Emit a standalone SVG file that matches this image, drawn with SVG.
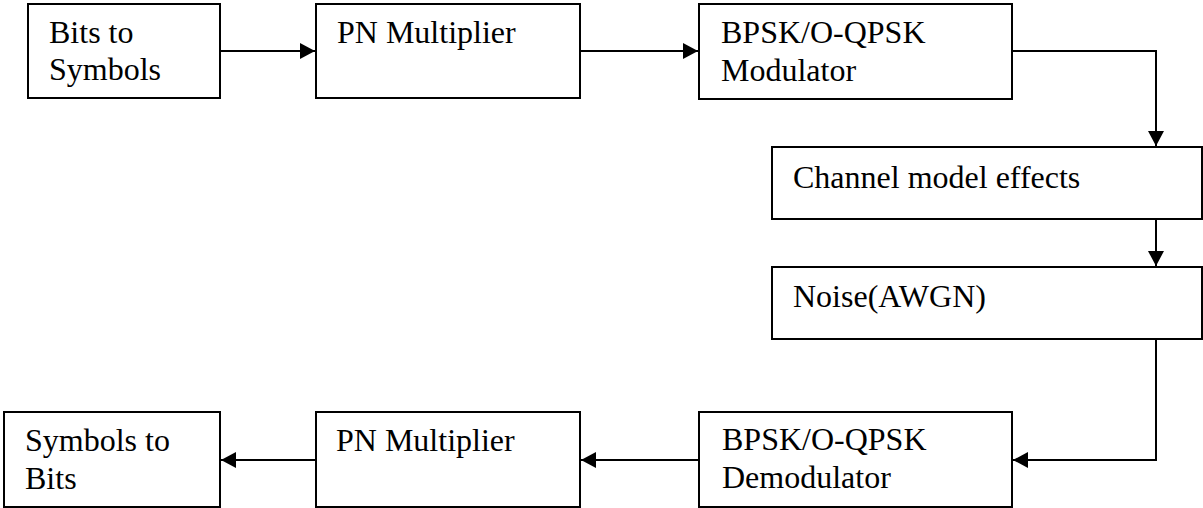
<svg xmlns="http://www.w3.org/2000/svg" width="1203" height="508" viewBox="0 0 1203 508">
<style>
.box{fill:#fff;stroke:#000;stroke-width:2}
.lbl{font-family:"Liberation Serif","Times New Roman",serif;font-size:32px;fill:#000}
.con{fill:none;stroke:#000;stroke-width:2}
</style>
<defs>
<marker id="arr" markerUnits="userSpaceOnUse" markerWidth="16" markerHeight="16" refX="15" refY="8" orient="auto">
<path d="M0,0 L15,8 L0,16 Z" fill="#000"/>
</marker>
</defs>
<rect width="1203" height="508" fill="#fff"/>
<g id="connectors">
<path class="con" d="M220,51 H315" marker-end="url(#arr)"/>
<path class="con" d="M580,51 H698" marker-end="url(#arr)"/>
<path class="con" d="M1012,51 H1156 V146" marker-end="url(#arr)"/>
<path class="con" d="M1156,219 V266" marker-end="url(#arr)"/>
<path class="con" d="M1156,339 V460 H1013" marker-end="url(#arr)"/>
<path class="con" d="M699,460 H581" marker-end="url(#arr)"/>
<path class="con" d="M316,460 H221" marker-end="url(#arr)"/>
</g>
<g id="bits-to-symbols">
<rect class="box" x="28" y="4" width="192" height="94"/>
<text class="lbl" x="49" y="43">Bits to</text>
<text class="lbl" x="49" y="80">Symbols</text>
</g>
<g id="pn-multiplier-tx">
<rect class="box" x="316" y="4" width="264" height="94"/>
<text class="lbl" x="337" y="43">PN Multiplier</text>
</g>
<g id="modulator">
<rect class="box" x="699" y="4" width="313" height="95"/>
<text class="lbl" x="721" y="43">BPSK/O-QPSK</text>
<text class="lbl" x="721" y="81">Modulator</text>
</g>
<g id="channel">
<rect class="box" x="772" y="147" width="430" height="72"/>
<text class="lbl" x="793" y="188">Channel model effects</text>
</g>
<g id="noise">
<rect class="box" x="772" y="267" width="430" height="72"/>
<text class="lbl" x="793" y="307">Noise(AWGN)</text>
</g>
<g id="demodulator">
<rect class="box" x="699" y="412" width="313" height="95"/>
<text class="lbl" x="722" y="450">BPSK/O-QPSK</text>
<text class="lbl" x="722" y="488">Demodulator</text>
</g>
<g id="pn-multiplier-rx">
<rect class="box" x="316" y="412" width="264" height="95"/>
<text class="lbl" x="336" y="451">PN Multiplier</text>
</g>
<g id="symbols-to-bits">
<rect class="box" x="4" y="412" width="216" height="95"/>
<text class="lbl" x="25" y="451">Symbols to</text>
<text class="lbl" x="25" y="489">Bits</text>
</g>
</svg>
